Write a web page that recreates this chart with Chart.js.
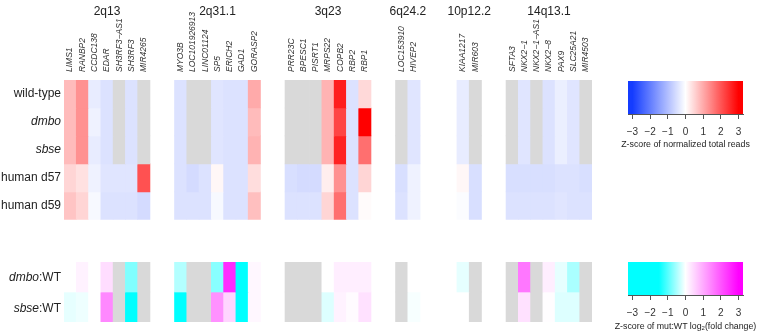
<!DOCTYPE html>
<html>
<head>
  <title>CNV heatmap</title>
  <script src="https://cdn.jsdelivr.net/npm/chart.js"></script>
  <style>
    body {
      margin: 0;
      background: #fff;
      font-family: 'Liberation Sans', Arial, sans-serif;
      color: #222;
    }
    #wrap {
      position: relative;
      width: 757px;
      height: 333px;
      overflow: hidden;
    }
    canvas { position: absolute; }
    .ratioLabel {
      position: absolute;
      left: 0;
      width: 61px;
      text-align: right;
      font-size: 12px;
      line-height: 14px;
      white-space: nowrap;
    }
    .barTitle {
      position: absolute;
      left: 605px;
      width: 161px;
      text-align: center;
      font-size: 8.8px;
      line-height: 11px;
      white-space: nowrap;
    }
    .barTitle sub { font-size: 6px; vertical-align: -1px; line-height: 0; }
  </style>
</head>
<body>
<div id="wrap">
  <canvas id="heatTop" width="600" height="230" style="left:0;top:0"></canvas>
  <canvas id="heatRatio" width="600" height="60" style="left:0;top:262px"></canvas>
  <canvas id="barTop" width="137" height="60" style="left:620px;top:81px"></canvas>
  <canvas id="barRatio" width="137" height="60" style="left:620px;top:262px"></canvas>
  <div class="ratioLabel" style="top:270px"><i>dmbo</i>:WT</div>
  <div class="ratioLabel" style="top:301px"><i>sbse</i>:WT</div>
  <div class="barTitle" style="top:139px">Z-score of normalized total reads</div>
  <div class="barTitle" style="top:321px">Z-score of mut:WT log<sub>2</sub>(fold change)</div>
</div>

<script>
  const bands = ['2q13', '2q31.1', '3q23', '6q24.2', '10p12.2', '14q13.1'];
  const genes = [
    'LIMS1', 'RANBP2', 'CCDC138', 'EDAR', 'SH3RF3\u2212AS1', 'SH3RF3', 'MIR4265',
    'MYO3B', 'LOC101926913', 'LINC01124', 'SP5', 'ERICH2', 'GAD1', 'GORASP2',
    'PRR23C', 'BPESC1', 'PISRT1', 'MRPS22', 'COPB2', 'RBP2', 'RBP1',
    'LOC153910', 'HIVEP2',
    'KIAA1217', 'MIR603',
    'SFTA3', 'NKX2\u22121', 'NKX2\u22121\u2212AS1', 'NKX2\u22128', 'PAX9', 'SLC25A21', 'MIR4503'
  ];
  const geneBand = [0,0,0,0,0,0,0, 1,1,1,1,1,1,1, 2,2,2,2,2,2,2, 3,3, 4,4, 5,5,5,5,5,5,5];

  const rowNames = ['wild-type', 'dmbo', 'sbse', 'human d57', 'human d59'];
  // z-scores of normalized total reads, null = no data (grey)
  const wildType = [0.8, 1.3, -0.3, -0.45, null, -0.45, null,
    -0.45, null, null, -0.4, -0.45, -0.45, 1.0,
    null, null, null, 0.9, 2.65, -0.45, 0.45,
    null, -0.4,
    -0.3, null,
    null, -0.4, null, -0.45, -0.25, -0.4, null];
  const dmbo = [0.8, 1.3, -0.2, -0.45, null, -0.45, null,
    -0.45, null, null, -0.4, -0.45, -0.45, 0.8,
    null, null, null, 0.9, 2.2, -0.45, 3.0,
    null, -0.4,
    -0.3, null,
    null, -0.4, null, -0.45, -0.25, -0.4, null];
  const sbse = [0.8, 1.3, -0.3, -0.45, null, -0.45, null,
    -0.45, null, null, -0.4, -0.45, -0.45, 0.9,
    null, null, null, 0.9, 2.6, -0.45, 1.7,
    null, -0.4,
    -0.3, null,
    null, -0.4, null, -0.45, -0.25, -0.4, null];
  const humanD57 = [0.5, 0.35, -0.2, -0.4, -0.4, -0.4, 2.05,
    -0.45, -0.55, -0.45, 0.1, -0.45, -0.45, 0.4,
    -0.5, -0.55, -0.55, 0.2, 1.3, -0.45, 0.5,
    -0.5, -0.2,
    0.1, -0.5,
    -0.5, -0.5, -0.5, -0.5, -0.45, -0.45, -0.5];
  const humanD59 = [0.7, 0.5, -0.1, -0.45, -0.45, -0.45, -0.55,
    -0.45, -0.45, -0.45, -0.1, -0.45, -0.45, 0.75,
    -0.45, -0.45, -0.45, 0.5, 1.7, -0.45, 0.05,
    -0.45, -0.2,
    -0.05, -0.5,
    -0.45, -0.45, -0.45, -0.45, -0.4, -0.45, -0.45];

  // log2 fold change mutant vs wild-type
  const dmboWT = [0.0, 0.15, 0.0, 0.4, null, -0.75, null,
    -0.45, null, null, -0.7, 2.5, -1.6, 0.1,
    null, null, null, 0.0, 0.2, 0.2, 0.2,
    null, 0.0,
    -0.15, null,
    null, 1.6, null, 0.2, -0.15, -0.5, null];
  const sbseWT = [-0.15, -0.1, 0.0, 1.4, null, -1.6, null,
    -1.6, null, null, 1.3, 0.5, -1.6, 0.1,
    null, null, null, -0.2, 0.15, 0.05, 0.35,
    null, -0.05,
    0.0, null,
    null, 0.35, null, 0.02, -0.2, -0.2, null];

  const zTicks = [-3, -2, -1, 0, 1, 2, 3];
  const legendRange = [-3.25, 3.25];

  // layout: empty columns before each band
  const bandGap = [0, 2, 2, 2, 3, 2];
  const colPos = [];
  let off = 0;
  genes.forEach((g, i) => {
    if (i > 0 && geneBand[i] !== geneBand[i - 1]) off += bandGap[geneBand[i]];
    colPos.push(i + off);
  });
  const nCols = colPos[colPos.length - 1] + 1;
  const bandCenter = bands.map((b, k) => {
    const cols = colPos.filter((c, i) => geneBand[i] === k);
    return (cols[0] + cols[cols.length - 1] + 1) / 2;
  });

  const FONT = "'Liberation Sans', Arial, sans-serif";
  Chart.defaults.font.family = FONT;
  Chart.defaults.color = '#222';

  const WHITE = [255, 255, 255], BLUE = [20, 60, 255], RED = [255, 0, 0];
  const CYAN = [0, 255, 255], MAGENTA = [255, 0, 255], GRAY = '#d9d9d9';
  function mix(a, b, t) {
    return 'rgb(' + a.map((v, k) => Math.round(v + (b[k] - v) * t)).join(',') + ')';
  }
  function readsColor(v) {
    if (v === null) return GRAY;
    const t = Math.min(1, Math.abs(v) / 3);
    return v < 0 ? mix(WHITE, BLUE, t) : mix(WHITE, RED, t);
  }
  function ratioColor(v) {
    if (v === null) return GRAY;
    return v < 0 ? mix(WHITE, CYAN, Math.min(1, -v / 1.5)) : mix(WHITE, MAGENTA, Math.min(1, v / 3));
  }

  function heatDatasets(rows, colorFn) {
    return rows.map((vals, r) => ({
      data: vals.map((v, i) => ({ x: colPos[i] + 0.5, y: [r, r + 1] })),
      backgroundColor: vals.map(colorFn),
      borderWidth: 0,
      grouped: false,
      barPercentage: 1,
      categoryPercentage: 1
    }));
  }

  // gene names (rotated) and band names above the top heatmap, placed with the x scale
  const columnLabels = {
    id: 'columnLabels',
    afterDraw(chart) {
      const c = chart.ctx, xs = chart.scales.x, top = chart.chartArea.top;
      c.save();
      c.fillStyle = '#333';
      c.font = 'italic 8.5px ' + FONT;
      c.textAlign = 'left';
      c.textBaseline = 'middle';
      genes.forEach((g, i) => {
        c.save();
        c.translate(xs.getPixelForValue(colPos[i] + 0.5), top - 8);
        c.rotate(-Math.PI / 2);
        c.fillText(g, 0, 0);
        c.restore();
      });
      c.fillStyle = '#222';
      c.font = '12px ' + FONT;
      c.textAlign = 'center';
      bands.forEach((b, k) => c.fillText(b, xs.getPixelForValue(bandCenter[k]), 12));
      c.restore();
    }
  };

  const baseOpts = {
    responsive: false,
    animation: false,
    events: [],
    plugins: { legend: { display: false }, tooltip: { enabled: false } }
  };

  // top heatmap
  new Chart(document.getElementById('heatTop'), {
    type: 'bar',
    data: { datasets: heatDatasets([wildType, dmbo, sbse, humanD57, humanD59], readsColor) },
    plugins: [columnLabels],
    options: {
      ...baseOpts,
      layout: { padding: { left: 0, right: 8, top: 80, bottom: 0 } },
      scales: {
        x: { type: 'linear', display: false, min: 0, max: nCols, offset: false },
        y: {
          type: 'linear', min: 0, max: rowNames.length, reverse: true,
          grid: { display: false, drawTicks: false, tickLength: 0 }, border: { display: false },
          afterBuildTicks: s => { s.ticks = rowNames.map((n, i) => ({ value: i + 0.5 })); },
          afterFit: s => { s.width = 64; },
          ticks: {
            padding: 3, color: '#222',
            font: c => ({ size: 12, style: (rowNames[c.index] === 'dmbo' || rowNames[c.index] === 'sbse') ? 'italic' : 'normal' }),
            callback: (v, i) => rowNames[i]
          }
        }
      }
    }
  });

  // mutant:WT heatmap
  new Chart(document.getElementById('heatRatio'), {
    type: 'bar',
    data: { datasets: heatDatasets([dmboWT, sbseWT], ratioColor) },
    options: {
      ...baseOpts,
      layout: { padding: { left: 64, right: 8, top: 0, bottom: 0 } },
      scales: {
        x: { type: 'linear', display: false, min: 0, max: nCols, offset: false },
        y: { type: 'linear', display: false, min: 0, max: 2, reverse: true }
      }
    }
  });

  function colorBar(id, colorFn) {
    new Chart(document.getElementById(id), {
      type: 'bar',
      data: {
        labels: [''],
        datasets: [{
          data: [legendRange],
          borderWidth: 0,
          barPercentage: 1,
          categoryPercentage: 1,
          backgroundColor: c => {
            const ch = c.chart;
            if (!ch.chartArea) return null;
            const xs = ch.scales.x;
            const g = ch.ctx.createLinearGradient(xs.getPixelForValue(-3), 0, xs.getPixelForValue(3), 0);
            for (let k = 0; k <= 24; k++) {
              const v = -3 + k * 0.25;
              g.addColorStop(k / 24, colorFn(v));
            }
            return g;
          }
        }]
      },
      options: {
        ...baseOpts,
        indexAxis: 'y',
        layout: { padding: { left: 8, right: 14, top: 0, bottom: 0 } },
        scales: {
          y: { display: false },
          x: {
            type: 'linear', min: legendRange[0], max: legendRange[1],
            grid: { drawOnChartArea: false, drawTicks: true, tickLength: 5, color: '#555' },
            border: { display: true, color: '#555' },
            afterBuildTicks: s => { s.ticks = zTicks.map(v => ({ value: v })); },
            afterFit: s => { s.height = 27; s.paddingLeft = 0; s.paddingRight = 0; },
            ticks: {
              padding: 7, font: { size: 10 }, color: '#333',
              callback: v => (v < 0 ? '\u2212' + Math.abs(v) : String(v))
            }
          }
        }
      }
    });
  }

  colorBar('barTop', readsColor);
  colorBar('barRatio', ratioColor);
</script>
</body>
</html>
